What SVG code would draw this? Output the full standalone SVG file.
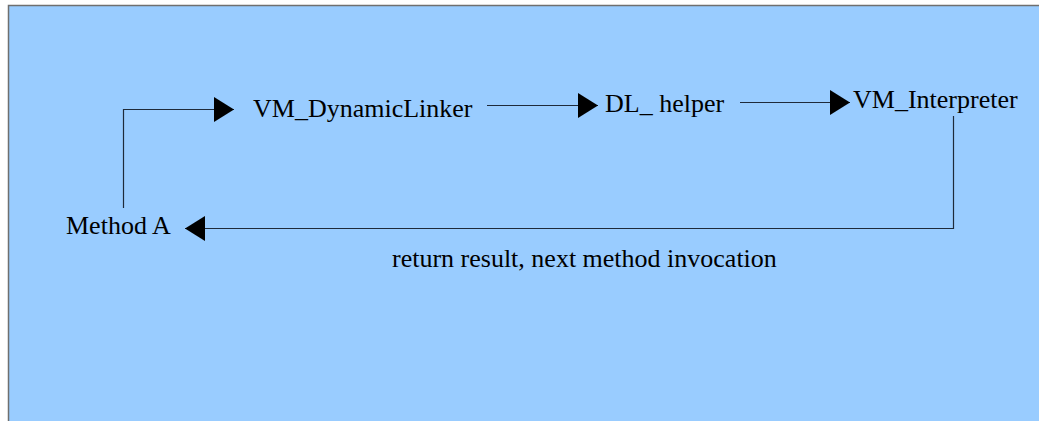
<svg xmlns="http://www.w3.org/2000/svg" width="1039" height="421" viewBox="0 0 1039 421">
  <style>
    .bg { fill: #99ccff; stroke: #6f6f6f; stroke-width: 1.5; }
    .label { font-family: "Liberation Serif", "Times New Roman", serif; font-size: 26px; fill: #000; }
    .conn { fill: none; stroke: #1e2a3a; stroke-width: 1.2; }
  </style>
  <defs>
    <marker id="arrow" viewBox="0 0 20 25" refX="20" refY="12.5" markerWidth="20" markerHeight="25" markerUnits="userSpaceOnUse" orient="auto">
      <path d="M0,0 L20,12.5 L0,25 Z" fill="#000"/>
    </marker>
  </defs>

  <!-- page background -->
  <rect class="bg" x="8.5" y="5.5" width="1040" height="430"/>

  <!-- connectors -->
  <g id="connectors">
    <path class="conn" d="M123.5,208 V109.5 H234" marker-end="url(#arrow)"/>
    <path class="conn" d="M487,105.5 H598" marker-end="url(#arrow)"/>
    <path class="conn" d="M740,102.5 H850" marker-end="url(#arrow)"/>
    <path class="conn" d="M953.5,116 V228.5 H185" marker-end="url(#arrow)"/>
  </g>

  <!-- nodes -->
  <g id="method-a">
    <text class="label" x="66" y="234">Method A</text>
  </g>
  <g id="vm-dynamic-linker">
    <text class="label" x="253" y="117">VM_DynamicLinker</text>
  </g>
  <g id="dl-helper">
    <text class="label" x="605" y="112">DL_ helper</text>
  </g>
  <g id="vm-interpreter">
    <text class="label" x="853" y="108">VM_Interpreter</text>
  </g>
  <g id="return-label">
    <text class="label" x="392" y="267">return result, next method invocation</text>
  </g>
</svg>
